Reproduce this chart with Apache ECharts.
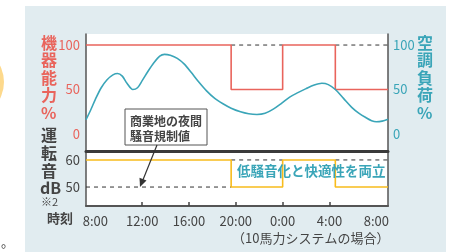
<!DOCTYPE html>
<html>
<head>
<meta charset="utf-8">
<script src="https://cdn.jsdelivr.net/npm/echarts@6/dist/echarts.min.js"></script>
<style>
  html, body { margin: 0; padding: 0; background: #fff; }
  #panel { position: absolute; left: 25px; top: 6px; width: 421px; height: 246px; background: #e1ecf0; }
  #dot { position: absolute; left: -68px; top: 46px; width: 72px; height: 72px; border-radius: 50%; background: #fdd98c; }
  #chart { position: absolute; left: 0; top: 0; width: 450px; height: 252px; }
</style>
</head>
<body>
<div id="panel"></div>
<div id="dot"></div>
<div id="chart"></div>
<script>
var chartDom = document.getElementById('chart');
var myChart = echarts.init(chartDom);

var FONT = '"Noto Sans CJK JP", "Noto Sans", sans-serif';

// hours since 0:00 of day one (8:00 -> 8, next day 8:00 -> 32)
var capacity = [[7.2, 100], [19.6, 100], [19.6, 50], [24, 50], [24, 100], [28.5, 100], [28.5, 50], [33, 50]];
var capacityFull1 = [[19.6, 100], [24, 100]];
var capacityFull2 = [[28.5, 100], [33, 100]];

// air-conditioning load %
var load = [
  [7.2, 16], [7.6, 27], [8.0, 39], [8.5, 52], [9.0, 61], [9.5, 66.5], [9.9, 68],
  [10.3, 65], [10.7, 57], [11.2, 50], [11.6, 52], [12.0, 60], [12.5, 70.5], [13.0, 80],
  [13.5, 87.5], [13.9, 89.5], [14.4, 88.5], [15.0, 85], [15.6, 78.5], [16.2, 69],
  [16.8, 59], [17.5, 48.5], [18.2, 40], [18.9, 34], [19.6, 29], [20.4, 25], [21.1, 22.8],
  [21.8, 22], [22.5, 23.3], [23.2, 28], [23.9, 34.5], [24.6, 41.5], [25.3, 46.5],
  [26.0, 51], [26.7, 55], [27.35, 57], [27.9, 55.5], [28.5, 50], [29.2, 40], [29.9, 30],
  [30.5, 23.5], [31.1, 18.5], [31.6, 15], [32.0, 13.8], [32.5, 14.5], [33.0, 16.5]
];

var noise = [[7.2, 60], [19.6, 60], [19.6, 50], [24, 50], [24, 60], [28.5, 60], [28.5, 50], [33, 50]];
var limitLow = [[7.2, 50], [19.6, 50]];
var limitHigh1 = [[19.6, 60], [24, 60]];
var limitHigh2 = [[28.5, 60], [33, 60]];

var hourLabels = [8, 12, 16, 20, 24, 28, 32];
var hourTicks = [12, 16, 20, 24, 28];
var pctLabels = [0, 50, 100];
var dbLabels = [50, 60];

var RED = '#e9645c';
var TEAL = '#3aa5b8';
var YEL = '#f8bc1c';
var DARK = '#444';

function dashed(data, idx) {
  return {
    type: 'line', data: data, xAxisIndex: idx, yAxisIndex: idx === 0 ? 0 : 2,
    symbol: 'none', silent: true,
    lineStyle: { color: '#333', width: 1, type: [4, 4] }
  };
}

var option = {
  animation: false,
  textStyle: { fontFamily: FONT },
  grid: [
    { left: 86, top: 34, width: 302, height: 117, show: true, backgroundColor: '#fff', borderWidth: 0 },
    { left: 86, top: 151, width: 302, height: 55, show: true, backgroundColor: '#fff', borderWidth: 0 }
  ],
  xAxis: [
    {
      type: 'value', gridIndex: 0, min: 7.2, max: 33,
      axisLine: { show: true, onZero: false, lineStyle: { color: '#3a3a3a', width: 3 } },
      axisTick: { show: false }, axisLabel: { show: false }, splitLine: { show: false }
    },
    {
      type: 'value', gridIndex: 1, min: 7.2, max: 33,
      axisLine: { show: true, onZero: false, lineStyle: { color: '#555', width: 2 } },
      axisTick: { show: true, inside: true, length: 4, customValues: hourTicks, lineStyle: { color: DARK, width: 1.5 } },
      axisLabel: {
        customValues: hourLabels, margin: 9, fontSize: 13, color: DARK, fontFamily: FONT,
        formatter: function (v) { return (v % 24) + ':00'; }
      },
      splitLine: { show: false }
    }
  ],
  yAxis: [
    {
      type: 'value', gridIndex: 0, min: -19.1, max: 112.4,
      axisLine: { show: true, lineStyle: { color: '#555', width: 1.5 } },
      axisTick: { show: false }, splitLine: { show: false },
      axisLabel: { customValues: pctLabels, margin: 6, fontSize: 13, color: RED, fontFamily: FONT }
    },
    {
      type: 'value', gridIndex: 0, min: -19.1, max: 112.4, position: 'right',
      axisLine: { show: true, lineStyle: { color: '#555', width: 1.5 } },
      axisTick: { show: false }, splitLine: { show: false },
      axisLabel: { customValues: pctLabels, margin: 5, fontSize: 13, color: TEAL, fontFamily: FONT }
    },
    {
      type: 'value', gridIndex: 1, min: 43, max: 63.3,
      axisLine: { show: true, lineStyle: { color: '#555', width: 1.5 } },
      axisTick: { show: false }, splitLine: { show: false },
      axisLabel: { customValues: dbLabels, margin: 6, fontSize: 13, color: DARK, fontFamily: FONT }
    },
    {
      type: 'value', gridIndex: 1, min: 43, max: 63.3, position: 'right',
      axisLine: { show: true, lineStyle: { color: '#555', width: 1.5 } },
      axisTick: { show: false }, splitLine: { show: false }, axisLabel: { show: false }
    }
  ],
  series: [
    dashed(capacityFull1, 0),
    dashed(capacityFull2, 0),
    {
      type: 'line', data: capacity, xAxisIndex: 0, yAxisIndex: 0, symbol: 'none',
      lineStyle: { color: RED, width: 1.6 }
    },
    {
      type: 'line', data: load, xAxisIndex: 0, yAxisIndex: 1, symbol: 'none', smooth: 0.3,
      lineStyle: { color: TEAL, width: 1.6 }
    },
    dashed(limitLow, 1),
    dashed(limitHigh1, 1),
    dashed(limitHigh2, 1),
    {
      type: 'line', data: noise, xAxisIndex: 1, yAxisIndex: 2, symbol: 'none',
      lineStyle: { color: YEL, width: 1.6 }
    }
  ],
  graphic: [
    { type: 'text', left: 41, top: 34, style: { text: '機\n器\n能\n力\n%', fill: RED, font: 'bold 16px ' + FONT, lineHeight: 17.5, align: 'center' } },
    { type: 'text', left: 41, top: 126, style: { text: '運\n転\n音', fill: DARK, font: 'bold 16px ' + FONT, lineHeight: 18 } },
    { type: 'text', left: 40, top: 180, style: { text: 'dB', fill: DARK, font: 'bold 16px ' + FONT } },
    { type: 'text', left: 41, top: 196, style: { text: '※2', fill: DARK, font: '11px ' + FONT } },
    { type: 'text', left: 417, top: 34, style: { text: '空\n調\n負\n荷\n%', fill: TEAL, font: 'bold 16px ' + FONT, lineHeight: 17.5 } },
    { type: 'text', left: 47, top: 212, style: { text: '時刻', fill: DARK, font: 'bold 13px ' + FONT } },
    { type: 'text', left: 232, top: 232, style: { text: '（10馬力システムの場合）', fill: DARK, font: '13px ' + FONT } },
    { type: 'text', left: 237, top: 164, z: 10, style: { text: '低騒音化と快適性を両立', fill: TEAL, font: 'bold 13.5px ' + FONT } },
    { type: 'rect', z: 10, shape: { x: 125, y: 109, width: 82, height: 36 }, style: { fill: '#fff', stroke: '#555', lineWidth: 1 } },
    { type: 'text', z: 11, left: 130, top: 114, style: { text: '商業地の夜間\n騒音規制値', fill: DARK, font: 'bold 12px ' + FONT, lineHeight: 15 } },
    { type: 'line', z: 10, shape: { x1: 157, y1: 145, x2: 142.5, y2: 181 }, style: { stroke: '#333', lineWidth: 1.2 } },
    { type: 'polygon', z: 10, shape: { points: [[140, 187], [146.5, 180.5], [139.5, 177.8]] }, style: { fill: '#333' } },
    { type: 'text', left: 1, top: 236, style: { text: '。', fill: DARK, font: '13px ' + FONT } }
  ]
};

myChart.setOption(option);
window.addEventListener('resize', () => myChart.resize());
</script>
</body>
</html>
